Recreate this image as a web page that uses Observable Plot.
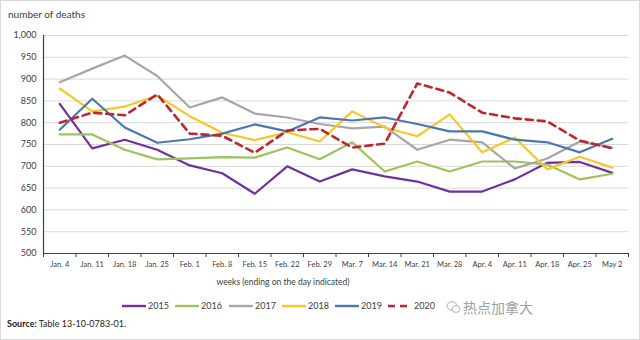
<!DOCTYPE html>
<html><head><meta charset="utf-8">
<script src="https://cdn.jsdelivr.net/npm/d3@7"></script>
<script src="https://cdn.jsdelivr.net/npm/@observablehq/plot@0.6"></script>
<style>
body{margin:0;background:#fff;font-family:Lato,"Liberation Sans",sans-serif;}
#wrap{position:relative;width:640px;height:340px;overflow:hidden;background:#fff;}
#border{position:absolute;left:0;top:0;width:638px;height:338px;border:1px solid #d9d9d9;pointer-events:none;}
.t{position:absolute;color:#404040;white-space:nowrap;}
#title{left:8px;top:8px;font-size:10px;}
#xtitle{left:283px;top:277px;font-size:8.5px;transform:translateX(-50%);}
#source{left:7px;top:318px;font-size:9px;color:#222;}
.leg{position:absolute;top:300px;font-size:9px;color:#404040;display:flex;align-items:center;}
.leg svg{margin-right:2px;}
#wm{position:absolute;left:446px;top:297px;display:flex;align-items:center;color:#a0a0a0;font-family:"Noto Sans CJK SC",sans-serif;font-size:14px;}
</style></head>
<body>
<div id="wrap">
  <div id="chart"></div>
  <div class="t" id="title">number of deaths</div>
  <div class="t" id="xtitle">weeks (ending on the day indicated)</div>
  <div id="legend"></div>
  <div class="t" id="source"><b>Source:</b> Table 13-10-0783-01.</div>
  <div id="wm"><svg width="15" height="14" viewBox="0 0 15 14"><ellipse cx="6" cy="6" rx="5" ry="4.2" fill="none" stroke="#b0b0b0" stroke-width="1"/><ellipse cx="10" cy="9" rx="4" ry="3.4" fill="#fff" stroke="#b0b0b0" stroke-width="1"/></svg><span style="margin-left:2px">热点加拿大</span></div>
  <div id="border"></div>
</div>
<script>
const weeks = ["Jan. 4","Jan. 11","Jan. 18","Jan. 25","Feb. 1","Feb. 8","Feb. 15","Feb. 22","Feb. 29","Mar. 7","Mar. 14","Mar. 21","Mar. 28","Apr. 4","Apr. 11","Apr. 18","Apr. 25","May 2"];
const years = ["2015","2016","2017","2018","2019","2020"];
const colors = ["#7030a0","#9bc45c","#a6a6a6","#f5c825","#4a78ad","#c0262d"];
const yTicks = [500,550,600,650,700,750,800,850,900,950,1000];

const d2015 = [843,741,761,738,702,684,637,700,665,693,677,665,642,642,670,708,710,685];
const d2016 = [773,773,738,716,718,721,720,743,716,755,688,711,688,711,711,704,670,683];
const d2017 = [893,924,954,907,835,858,821,812,797,787,791,738,761,755,695,718,757,743];
const d2018 = [878,826,837,862,815,777,760,778,757,826,789,769,819,732,766,693,722,697];
const d2019 = [784,855,789,754,762,775,796,780,812,805,812,797,780,780,761,755,732,763];
const d2020 = [800,823,817,865,775,770,731,782,786,743,752,890,869,823,810,803,759,741];
const series = [d2015,d2016,d2017,d2018,d2019,d2020];

const rows = [];
series.forEach((arr, k) => arr.forEach((v, i) => rows.push({i, value: v, year: years[k]})));
const solid = rows.filter(d => d.year !== "2020");
const dashed = rows.filter(d => d.year === "2020");

const chart = Plot.plot({
  width: 640,
  height: 340,
  marginTop: 35,
  marginBottom: 87,
  marginLeft: 43,
  marginRight: 12,
  style: {fontFamily: "Lato, 'Liberation Sans', sans-serif", background: "transparent"},
  x: {domain: [-0.5, 17.5], axis: null},
  y: {domain: [500, 1000], axis: null},
  color: {domain: years, range: colors},
  marks: [
    Plot.gridY(yTicks, {stroke: "#d9d9d9", strokeOpacity: 1}),
    Plot.axisY(yTicks, {tickSize: 0, tickPadding: 7, tickFormat: d3.format(","), fontSize: 9, fill: "#404040", label: null}),
    Plot.axisX(d3.range(-0.5, 18, 1), {tickSize: 4, tickFormat: () => "", stroke: "#404040", label: null}),
    Plot.axisX(d3.range(18), {tickSize: 0, tickPadding: 8, tickFormat: i => weeks[i], fontSize: 7.5, fill: "#404040", label: null}),
    Plot.line(solid, {x: "i", y: "value", z: "year", stroke: "year", strokeWidth: 2.2}),
    Plot.line(dashed, {x: "i", y: "value", stroke: "year", strokeWidth: 2.6, strokeDasharray: "7,5"}),
    Plot.ruleX([-0.5], {stroke: "#404040", strokeWidth: 1.2}),
    Plot.ruleY([500], {stroke: "#404040", strokeWidth: 1})
  ]
});
document.getElementById("chart").appendChild(chart);

// legend
const legX = [122, 175, 229, 282, 335, 388];
const leg = document.getElementById("legend");
years.forEach((y, k) => {
  const el = document.createElement("div");
  el.className = "leg";
  el.style.left = legX[k] + "px";
  const dash = y === "2020" ? 'stroke-dasharray="7,5"' : "";
  el.innerHTML = `<svg width="24" height="8"><line x1="0" y1="4" x2="24" y2="4" stroke="${colors[k]}" stroke-width="${y==="2020"?2.6:2.4}" ${dash}/></svg><span>${y}</span>`;
  leg.appendChild(el);
});
</script>
</body></html>
